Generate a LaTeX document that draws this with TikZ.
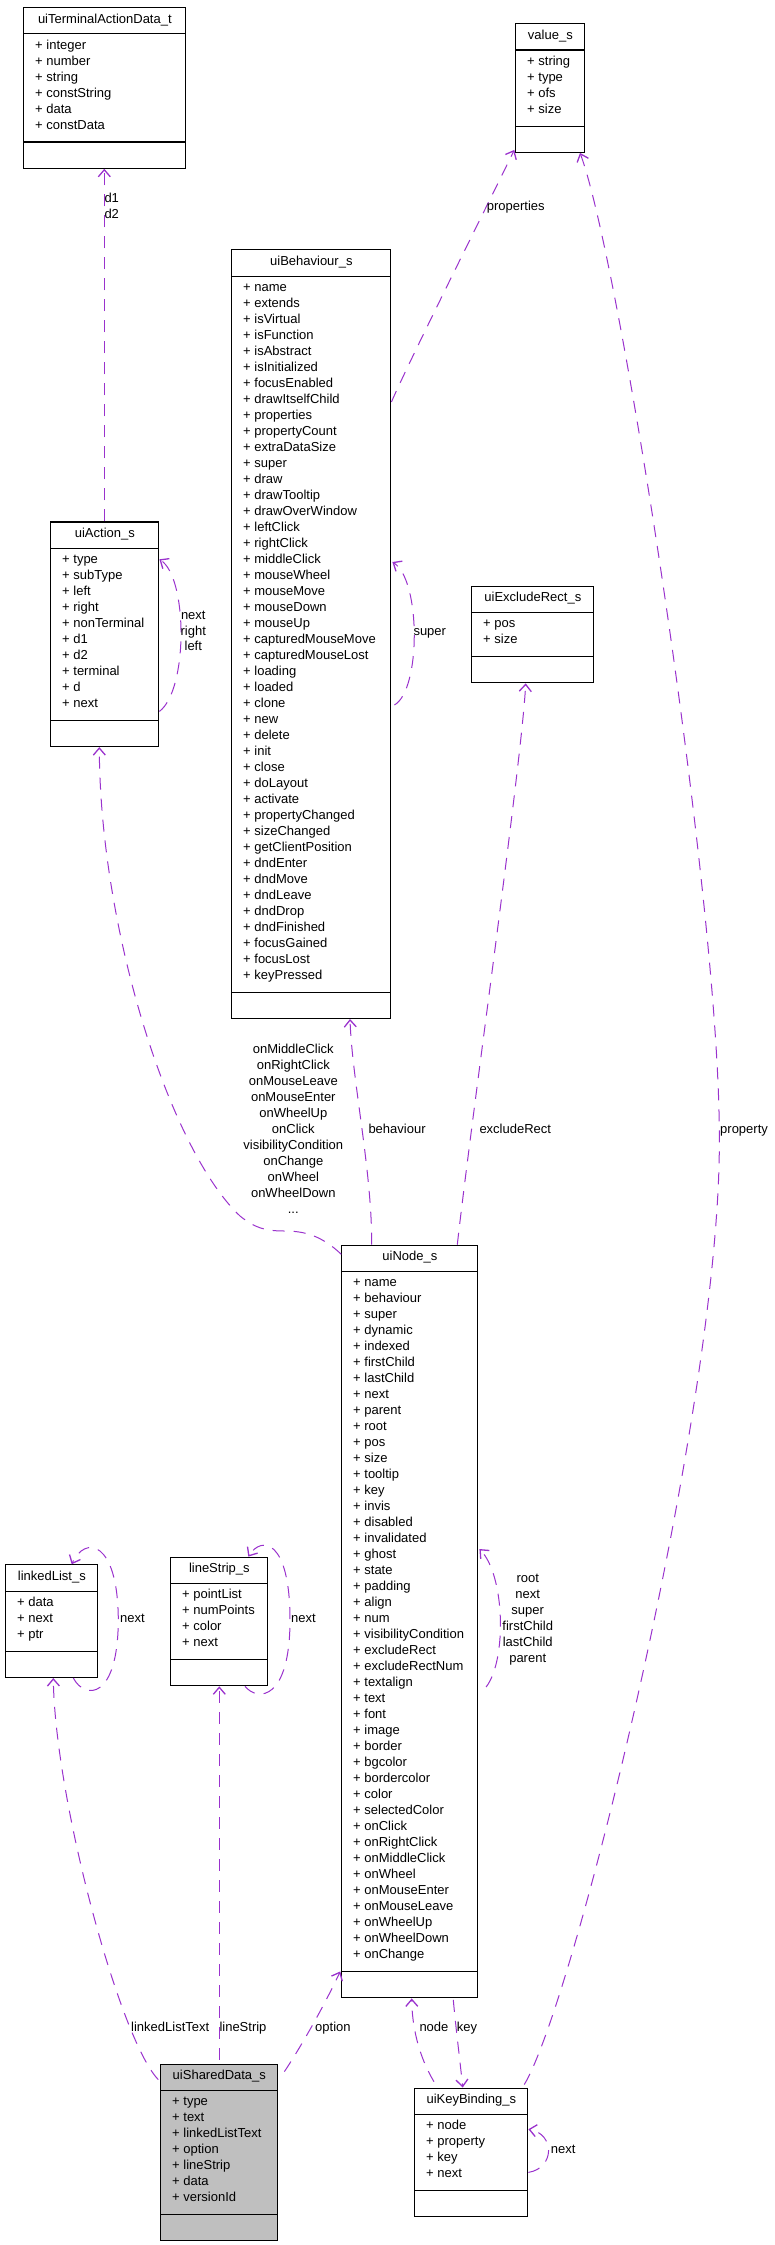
\documentclass[tikz,border=0pt]{standalone}
\usepackage{fontspec}
\setmainfont{Liberation Sans}
\usetikzlibrary{arrows.meta,calc}
\definecolor{edgepurple}{HTML}{9A32CD}
\definecolor{sharedgray}{HTML}{BFBFBF}
\tikzset{
  classbox/.style={draw=black,line width=1.1pt,inner sep=0pt,fill=white},
  classline/.style={draw=black,line width=1.1pt},
  classtitle/.style={font=\fontsize{13}{16}\selectfont,inner sep=0pt,anchor=mid},
  attr/.style={font=\fontsize{13}{16}\selectfont,inner sep=0pt,anchor=mid west},
  lab/.style={font=\fontsize{13}{16}\selectfont,inner sep=0pt},
  usearrow/.style={draw=edgepurple,line width=1pt,dash pattern=on 12pt off 9pt,
    -{Straight Barb[length=7pt,width=12pt,line width=1.3pt]}},
}
\newcommand\umlclass[8]{%
  \pgfmathsetmacro\uW{#5-#3}%
  \pgfmathsetmacro\uH{16*#7+64.6}%
  \node[classbox,#1,minimum width=\uW pt,minimum height=\uH pt,anchor=north west] (#2) at (#3,#4) {};
  \draw[classline] ($(#2.north west)+(0,26.8)$) -- ($(#2.north east)+(0,26.8)$);
  \draw[classline] ($(#2.south west)+(0,-26.8)$) -- ($(#2.south east)+(0,-26.8)$);
  \node[classtitle] (#2-t) at ($(#2.north)+(0,13.6)$) {#6};
  \foreach \a [count=\i] in {#8} {
    \node[attr] (#2-a\i) at ($(#2.north west)+(11.7,{39.6+16*(\i-1)})$) {+ \a};
  }%
}
\begin{document}
\begin{tikzpicture}[x=1pt,y=-1pt]
\useasboundingbox (0,0) rectangle (775,2245);

% classes
\umlclass{}{term}{23.3}{7.1}{185.3}{uiTerminalActionData\_t}{6}{integer,number,string,constString,data,constData}
\umlclass{}{val}{515.3}{23.2}{584.3}{value\_s}{4}{string,type,ofs,size}
\umlclass{}{beh}{231.3}{249.3}{390.3}{uiBehaviour\_s}{44}{name,extends,isVirtual,isFunction,isAbstract,isInitialized,focusEnabled,drawItselfChild,properties,propertyCount,extraDataSize,super,draw,drawTooltip,drawOverWindow,leftClick,rightClick,middleClick,mouseWheel,mouseMove,mouseDown,mouseUp,capturedMouseMove,capturedMouseLost,loading,loaded,clone,new,delete,init,close,doLayout,activate,propertyChanged,sizeChanged,getClientPosition,dndEnter,dndMove,dndLeave,dndDrop,dndFinished,focusGained,focusLost,keyPressed}
\umlclass{}{act}{50.3}{521.4}{158.3}{uiAction\_s}{10}{type,subType,left,right,nonTerminal,d1,d2,terminal,d,next}
\umlclass{}{exc}{471.3}{585.7}{593.3}{uiExcludeRect\_s}{2}{pos,size}
\umlclass{}{nd}{341.3}{1244.7}{477.3}{uiNode\_s}{43}{name,behaviour,super,dynamic,indexed,firstChild,lastChild,next,parent,root,pos,size,tooltip,key,invis,disabled,invalidated,ghost,state,padding,align,num,visibilityCondition,excludeRect,excludeRectNum,textalign,text,font,image,border,bgcolor,bordercolor,color,selectedColor,onClick,onRightClick,onMiddleClick,onWheel,onMouseEnter,onMouseLeave,onWheelUp,onWheelDown,onChange}
\umlclass{}{ll}{5.3}{1564.3}{97.3}{linkedList\_s}{3}{data,next,ptr}
\umlclass{}{ls}{170.3}{1556.6}{267.3}{lineStrip\_s}{4}{pointList,numPoints,color,next}
\umlclass{fill=sharedgray}{sh}{160.3}{2063.6}{277.3}{uiSharedData\_s}{7}{type,text,linkedListText,option,lineStrip,data,versionId}
\umlclass{}{kb}{414.3}{2087.5}{527.3}{uiKeyBinding\_s}{4}{node,property,key,next}

% uiAction_s -> uiTerminalActionData_t
\draw[usearrow] ($(act.north west)+(54,0)$) -- ($(term.south west)+(81,0)$);
\node[lab,anchor=mid west] (l-d1) at (104.3,199.6) {d1};
\node[lab,anchor=mid west] (l-d2) at (104.3,215.7) {d2};

% uiBehaviour_s -> value_s
\draw[usearrow] ($(beh.north east)+(0,152.7)$) .. controls (412,355) and (490,200) .. ($(val.south west)+(-1,-3)$);
\node[lab,anchor=mid west] (l-prop) at (486.7,208) {properties};

% uiBehaviour_s self loop
\draw[usearrow] ($(beh.north east)+(3,455.7)$) .. controls (421,690) and (421,580) .. ($(beh.north east)+(1,312.7)$);
\node[lab,anchor=mid west] (l-super) at (413.3,633) {super};

% uiAction_s self loop
\draw[usearrow] ($(act.north east)+(0,190)$) .. controls (188,690) and (188,578) .. ($(act.north east)+(0,37.9)$);
\foreach \t [count=\i] in {next,right,left}
  \node[lab,anchor=mid] (l-act\i) at (193.3,{616.8+15.7*(\i-1)}) {\t};

% uiNode_s -> uiAction_s
\draw[usearrow] ($(nd.north west)+(0,9.6)$) .. controls (322,1236) and (305,1231) .. (285,1231)
  .. controls (265,1231) and (255,1228) .. (240,1216)
  .. controls (170,1150) and (100,930) .. ($(act.south west)+(49,0)$);
\foreach \t [count=\i] in {onMiddleClick,onRightClick,onMouseLeave,onMouseEnter,onWheelUp,onClick,visibilityCondition,onChange,onWheel,onWheelDown}
  \node[lab,anchor=mid] (l-on\i) at (293.3,{1050.7+16*(\i-1)}) {\t};
\node[lab,anchor=mid] (l-dots) at (293.3,1210.7) {...};

% uiNode_s -> uiBehaviour_s
\draw[usearrow] ($(nd.north west)+(30.4,0)$) .. controls (372,1170) and (352,1080) .. ($(beh.south west)+(118.7,0)$);
\node[lab,anchor=mid west] (l-beh) at (368.3,1131.1) {behaviour};

% uiNode_s -> uiExcludeRect_s
\draw[usearrow] ($(nd.north west)+(116,0)$) .. controls (470,1130) and (522,760) .. ($(exc.south west)+(54.4,0)$);
\node[lab,anchor=mid west] (l-exc) at (479.3,1131.1) {excludeRect};

% uiKeyBinding_s -> value_s
\draw[usearrow] ($(kb.north west)+(110,-3)$) .. controls (575,2000) and (722,1400) .. (719.3,1135.7)
  .. controls (719.3,900) and (620,260) .. ($(val.south west)+(64.7,0)$);
\node[lab,anchor=mid west] (l-property) at (720,1131.1) {property};

% uiSharedData_s -> linkedList_s
\draw[usearrow] ($(sh.north west)+(-2,16)$) .. controls (120,2040) and (55,1800) .. ($(ll.south west)+(48,0)$);
\node[lab,anchor=mid west] (l-llt) at (131,2028.5) {linkedListText};

% uiSharedData_s -> lineStrip_s
\draw[usearrow] ($(sh.north west)+(59,-4)$) -- ($(ls.south west)+(49,0)$);
\node[lab,anchor=mid west] (l-ls) at (219.3,2028.5) {lineStrip};

% uiSharedData_s -> uiNode_s
\draw[usearrow] ($(sh.north east)+(6,8)$) .. controls (300,2048) and (322,2010) .. ($(nd.south west)+(-1,-27)$);
\node[lab,anchor=mid west] (l-opt) at (315,2028.5) {option};

% linkedList_s self loop
\draw[usearrow] ($(ll.south west)+(68,0)$) .. controls (85,1700) and (118,1700) .. (118.3,1620)
  .. controls (118,1540) and (85,1535) .. ($(ll.north west)+(66.4,0)$);
\node[lab,anchor=mid west] (l-llnext) at (120,1619.8) {next};

% lineStrip_s self loop
\draw[usearrow] ($(ls.south west)+(74.7,0)$) .. controls (258,1702) and (290,1700) .. (290,1620)
  .. controls (290,1540) and (262,1535) .. ($(ls.north west)+(78,0)$);
\node[lab,anchor=mid west] (l-lsnext) at (291,1619.8) {next};

% uiNode_s self loop
\draw[usearrow] ($(nd.north east)+(7.7,442.3)$) .. controls (507,1660) and (505,1575) .. ($(nd.north east)+(1,304.3)$);
\foreach \t [count=\i] in {root,next,super,firstChild,lastChild,parent}
  \node[lab,anchor=mid] (l-nd\i) at (527.7,{1579.6+16*(\i-1)}) {\t};

% uiKeyBinding_s -> uiNode_s
\draw[usearrow] ($(kb.north west)+(19.7,-5.8)$) .. controls (418,2055) and (412,2025) .. ($(nd.south west)+(70.4,0)$);
\node[lab,anchor=mid west] (l-node) at (419.3,2028.5) {node};

% uiNode_s -> uiKeyBinding_s
\draw[usearrow] ($(nd.south west)+(112,1.5)$) .. controls (456,2030) and (460,2060) .. ($(kb.north west)+(48.4,0)$);
\node[lab,anchor=mid west] (l-key) at (456.7,2028.5) {key};

% uiKeyBinding_s self loop
\draw[usearrow] ($(kb.north east)+(0,84.9)$) .. controls (555,2168) and (555,2134) .. ($(kb.north east)+(0,41.7)$);
\node[lab,anchor=mid west] (l-kbnext) at (550.7,2150.4) {next};
\end{tikzpicture}
\end{document}
